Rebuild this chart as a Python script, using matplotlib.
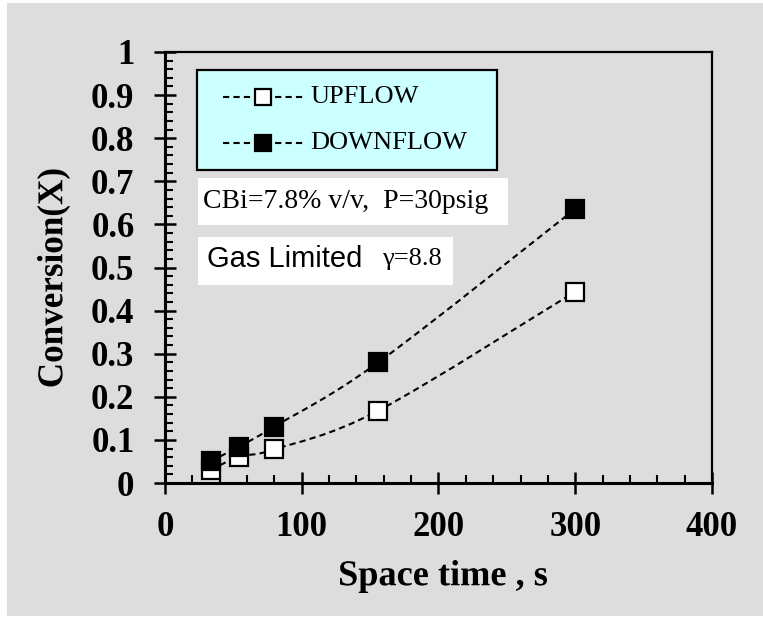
import numpy as np
import matplotlib
matplotlib.use("Agg")
import matplotlib.pyplot as plt
from matplotlib.path import Path
from matplotlib.patches import PathPatch, Rectangle
from matplotlib.lines import Line2D
from matplotlib.ticker import MultipleLocator
from matplotlib.textpath import TextPath
from matplotlib.font_manager import FontProperties
from matplotlib.transforms import Affine2D, IdentityTransform

# data
space_time = [33.5, 54, 80, 156, 300]
x_up = [0.030, 0.061, 0.078, 0.168, 0.444]
x_down = [0.051, 0.084, 0.131, 0.280, 0.636]
labels = ["UPFLOW", "DOWNFLOW"]
yticklabels = ["0", "0.1", "0.2", "0.3", "0.4", "0.5", "0.6", "0.7", "0.8", "0.9", "1"]

W, H = 763, 617
fig = plt.figure(figsize=(W / 100, H / 100), dpi=100, facecolor="white")


def fx(px):
    return px / W


def fy(py):
    return 1 - py / H


fig.patches.append(Rectangle((fx(7), fy(616)), fx(756), 613 / H, transform=fig.transFigure,
                             facecolor="#dddddd", edgecolor="none", zorder=-10))

ax = fig.add_axes([fx(165), fy(483), 547 / W, 431 / H])
ax.set_facecolor("#dddddd")

serif = "Liberation Serif"
dash = (0, (3, 2))


def smooth_path(xs, ys):
    # Excel-like smoothed line: Catmull-Rom segments as cubic Beziers
    pts = np.column_stack([xs, ys])
    n = len(pts)
    verts = [pts[0]]
    codes = [Path.MOVETO]
    for i in range(n - 1):
        p0 = pts[i - 1] if i > 0 else pts[i]
        p1 = pts[i]
        p2 = pts[i + 1]
        p3 = pts[i + 2] if i + 2 < n else pts[i + 1]
        c1 = p1 + (p2 - p0) / 6
        c2 = p2 - (p3 - p1) / 6
        verts += [c1, c2, p2]
        codes += [Path.CURVE4] * 3
    return Path(verts, codes)


def boxed_label(s, cx, cy, w, h, rot=0):
    # bold serif text squeezed into a w x h pixel box (the original's labels are stretched)
    tp = TextPath((0, 0), s, size=40, prop=FontProperties(family=serif, weight="bold"))
    bb = tp.get_extents()
    tr = (Affine2D().translate(-(bb.x0 + bb.x1) / 2, -(bb.y0 + bb.y1) / 2)
          .scale(w / bb.width, h / bb.height).rotate_deg(rot).translate(cx, H - cy))
    fig.add_artist(PathPatch(tr.transform_path(tp), transform=IdentityTransform(),
                             facecolor="black", edgecolor="none"))


for ys, face in [(x_up, "white"), (x_down, "black")]:
    ax.add_patch(PathPatch(smooth_path(space_time, ys), fill=False, edgecolor="black",
                           linewidth=1.5, linestyle=dash, zorder=2))
    ax.plot(space_time, ys, linestyle="none", marker="s", markersize=12.5,
            markerfacecolor=face, markeredgecolor="black", markeredgewidth=1.6, zorder=3)

ax.set_xlim(0, 400)
ax.set_ylim(0, 1)
ax.xaxis.set_major_locator(MultipleLocator(100))
ax.xaxis.set_minor_locator(MultipleLocator(20))
ax.yaxis.set_minor_locator(MultipleLocator(0.02))
ax.set_yticks(np.arange(0, 1.01, 0.1))
ax.set_yticklabels(yticklabels)

ax.tick_params(which="major", direction="inout", length=16, width=1.8, labelsize=25)
ax.tick_params(which="minor", direction="in", length=6, width=1.5)
ax.tick_params(axis="y", which="major", pad=14)
ax.tick_params(axis="x", which="major", pad=12)
ax.tick_params(top=False, right=False, which="both")
for lab in ax.get_xticklabels() + ax.get_yticklabels():
    lab.set_fontfamily(serif)
    lab.set_fontweight("bold")

for side in ["left", "bottom"]:
    ax.spines[side].set_linewidth(2.2)
for side in ["top", "right"]:
    ax.spines[side].set_linewidth(1.6)

boxed_label("Space time , s", 443.5, 576.5, 207, 33)
boxed_label("Conversion(X)", 53.5, 278, 217, 33, rot=90)

# legend box drawn by hand
fig.patches.append(Rectangle((fx(197), fy(170)), 300 / W, 100 / H, transform=fig.transFigure,
                             facecolor="#ccffff", edgecolor="black", linewidth=1.6, zorder=1))
for row_y, face, lab in [(97, "white", labels[0]), (143, "black", labels[1])]:
    fig.add_artist(Line2D([fx(223), fx(303)], [fy(row_y), fy(row_y)], transform=fig.transFigure,
                          color="black", linestyle=dash, linewidth=1.5))
    fig.add_artist(Line2D([fx(263)], [fy(row_y)], transform=fig.transFigure, linestyle="none",
                          marker="s", markersize=11, markerfacecolor=face,
                          markeredgecolor="black", markeredgewidth=1.6))
    fig.text(fx(310), fy(row_y), lab, fontfamily=serif, fontsize=19, ha="left", va="center")

# annotation boxes
fig.patches.append(Rectangle((fx(198), fy(225)), 310 / W, 47 / H, transform=fig.transFigure,
                             facecolor="white", edgecolor="none", zorder=1))
fig.text(fx(203), fy(201), "CBi=7.8% v/v,  P=30psig", fontfamily=serif, fontsize=20,
         va="center", ha="left")

fig.patches.append(Rectangle((fx(198), fy(285)), 255 / W, 48 / H, transform=fig.transFigure,
                             facecolor="white", edgecolor="none", zorder=1))
fig.text(fx(207), fy(259), "Gas Limited", fontfamily="Liberation Sans", fontsize=21,
         va="center", ha="left")
fig.text(fx(382), fy(259), "γ=8.8", fontfamily=serif, fontsize=19, va="center", ha="left")

fig.savefig("out.png", dpi=100, facecolor="white")
